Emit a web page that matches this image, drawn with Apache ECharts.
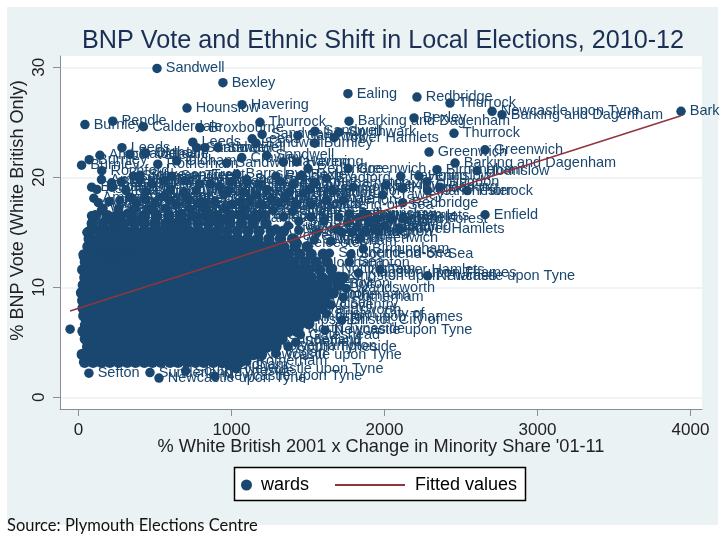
<!DOCTYPE html>
<html><head><meta charset="utf-8">
<style>html,body{margin:0;padding:0;background:#fff}#c{width:720px;height:540px}</style>
<script src="https://cdn.jsdelivr.net/npm/echarts@6/dist/echarts.min.js"></script>
</head><body><div id="c"></div>
<script>
const titleText = "BNP Vote and Ethnic Shift in Local Elections, 2010-12";
const xTitle = "% White British 2001 x Change in Minority Share '01-11";
const yTitle = "% BNP Vote (White British Only)";
const sourceText = "Source: Plymouth Elections Centre";
const xTicks = [0, 1000, 2000, 3000, 4000];
const yTicks = [0, 10, 20, 30];
const fittedLine = [[-55, 7.85], [3938, 25.6]];

// Named wards that stand out from the mass: [x, y, label]
const namedTop = [
 [513,29.9,"Sandwell"],[944,28.6,"Bexley"],[709,26.3,"Hounslow"],[1069,26.6,"Havering"],[1761,27.6,"Ealing"],
 [2212,27.3,"Redbridge"],[2428,26.75,"Thurrock"],[2703,26.0,"Newcastle upon Tyne"],[2768,25.7,"Barking and Dagenham"],
 [3938,26.0,"Barking and Dagenham"],[2193,25.4,"Bexley"],[1768,25.1,"Barking and Dagenham"],[2454,24.0,"Thurrock"],
 [2291,22.3,"Greenwich"],[2657,22.5,"Greenwich"],[2461,21.3,"Barking and Dagenham"],[2343,20.7,"Birmingham"],[2605,20.6,"Hounslow"],
 [42,24.8,"Burnley"],[224,25.1,"Pendle"],[424,24.6,"Calderdale"],[794,24.5,"Broxbourne"],[1186,25.0,"Thurrock"],
 [1200,23.9,"Sandwell"],[1135,23.5,"Leeds"],[1160,23.1,"Sandwell"],[1434,23.8,"Sandwell"],[1545,24.2,"Sandwell"],
 [1545,23.1,"Burnley"],[1703,24.1,"Southwark"],[1670,23.6,"Tower Hamlets"],[747,23.2,"Leeds"],[772,22.7,"Sandwell"],[826,22.7,"Sandwell"],
 [912,22.7,"Sandwell"],[284,22.7,"Leeds"],[140,22.0,"Amber Valley"],[70,21.6,"Burnley"],[20,21.1,"Burnley"],
 [336,22.1,"Calderdale"],[439,22.2,"Oldham"],[518,21.2,"Rotherham"],[642,21.5,"Oldham"],[969,21.3,"Sandwell"],
 [1067,21.8,"Crawley"],[1230,22.0,"Sandwell"],[1339,21.4,"Havering"],[1426,21.4,"Havering"],[1500,20.8,"Redbridge"],
 [1763,20.8,"Greenwich"],[152,20.6,"Rochford"],[358,20.1,"Stoke-on-Trent"],[402,20.2,"Stoke-on-Trent"],[609,20.1,"Sandwell"],
 [1034,20.3,"Barnsley"],[1459,20.2,"Bexley"],[1290,20.1,"Redditch"],[86,19.1,"Bolton"],[217,19.5,"Bradford"],[217,19.1,"Barnsley"],
 [864,19.4,"Dudley"],[920,19.2,"Tameside"],[1545,19.5,"Southampton"],[1796,19.1,"Southall"],[2106,20.1,"Havering"],[2225,20.1,"Hounslow"],
 [2277,19.6,"Hillingdon"],[2282,18.8,"Manchester"],[2540,18.8,"Thurrock"],[2362,19.1,"Barking"],[2119,19.0,"Hillingdon"],
 [2010,19.3,"Bexley"],[1988,18.4,"Crawley"],[2119,17.7,"Redbridge"],[2657,16.6,"Enfield"],[2122,16.3,"Enfield"],[2101,15.3,"Tower Hamlets"],
 [1862,16.7,"Hounslow"],[1861,13.5,"Birmingham"],[1840,14.5,"Greenwich"],[1970,11.6,"Tower Hamlets"],[2282,11.05,"Newcastle upon Tyne"]
];
// Upper part of the mass, still readable as separate wards
const namedUpper = [
 [150,19.8,"Amber Valley"],[280,19.6,"Ashfield"],[400,19.8,"Walsall"],[480,19.4,"Kirklees"],[560,19.7,"Wakefield"],[700,19.7,"Thurrock"],[790,19.4,"Sandwell"],
 [1000,19.6,"Rotherham"],[1100,19.8,"Doncaster"],[1180,19.4,"Swale"],[1320,19.6,"Basildon"],[1400,19.3,"Medway"],[1620,19.9,"Bradford"],
 [120,18.9,"Ashfield"],[310,18.8,"Blackburn with Darwen"],[440,18.7,"Bolton"],[600,18.9,"Barnsley"],[690,18.6,"Sunderland"],[770,18.8,"Walsall"],
 [980,18.8,"Kirklees"],[1080,18.6,"Stoke-on-Trent"],[1230,18.9,"Harlow"],[1380,18.7,"Sheffield"],[1510,18.9,"Havering"],[1660,18.8,"Hillingdon"],
 [200,17.8,"Dudley"],[380,17.7,"Oldham"],[500,17.6,"Wigan"],[600,17.9,"Leeds"],[780,17.6,"Bradford"],[890,17.8,"Rochdale"],[1000,17.5,"Tameside"],
 [1120,17.9,"Wakefield"],[1200,17.5,"Doncaster"],[1310,17.7,"Sandwell"],[1420,17.6,"Redditch"],[1520,17.5,"Southend-on-Sea"],
 [160,17.2,"Wirral"],[260,17.1,"Barnsley"],[370,17.2,"Bury"],[470,17.1,"Hartlepool"],[570,17.2,"Rotherham"],[730,17.1,"Calderdale"],[830,17.2,"Medway"],
 [960,17.1,"Kirklees"],[1090,17.2,"Stockton-on-Tees"],[1270,17.0,"Sheffield"],[1400,16.9,"Swale"]
];
const namedMiddle = [
 [100,18.1,"Amber Valley"],[130,17.7,"Ashfield"],[150,17.0,"Walsall"],[270,17.9,"Wakefield"],[340,18.2,"Rotherham"],[440,18.0,"Barnsley"],
 [560,18.3,"Wigan"],[640,17.5,"Doncaster"],[720,18.0,"Sheffield"],[830,17.7,"Bradford"],[950,18.4,"Kirklees"],[1060,17.8,"Medway"],
 [1160,18.4,"Harlow"],[1260,18.0,"Dudley"],[1350,18.2,"Basildon"],[1470,18.6,"Hillingdon"],[1620,18.0,"Swale"],[1730,17.9,"Merton"],
 [230,16.4,"Leeds"],[320,16.7,"Calderdale"],[410,16.3,"Bolton"],[500,16.8,"Tameside"],[590,16.2,"Oldham"],[680,16.6,"Stockport"],
 [770,16.3,"Rochdale"],[860,16.7,"Sefton"],[950,16.2,"Bury"],[1040,16.6,"Wirral"],[1130,16.3,"Hartlepool"],[1220,16.6,"Sandwell"],
 [1340,16.4,"Castle Point"],[1605,16.05,"Sandwell"],[1700,16.4,"Enfield"],[1760,15.9,"Hackney"],[1820,15.5,"Lewisham"],[1900,15.9,"Croydon"],[1950,16.2,"Waltham Forest"],
 [2000,15.6,"Havering"],[1690,15.3,"Reading"],[1870,16.5,"Tower Hamlets"],[2040,16.2,"Enfield"],
 [85,16.5,"Barnsley"],[95,15.9,"Ashfield"],[55,15.0,"Bolsover"],[30,13.0,"Boston"],[32,12.8,"Blackpool"],[-55,6.2,"Redcar"],
 [1720,15.0,"Havering"],[1560,15.0,"Slough"],[1440,15.2,"Woking"],[1780,13.0,"Southend-on-Sea"],[1650,14.2,"Newham"],[1770,12.3,"Sea"],
 [1830,11.3,"Kingston upon Thames"],[1700,11.0,"Kingston upon Thames"],[1710,10.3,"Bolton"],[1750,9.9,"Wandsworth"],[1640,9.3,"Rotherham"],[1730,9.1,"Rotherham"],
 [1650,8.4,"Coventry"],[1720,7.0,"Bristol, City of"],[1480,7.3,"Kingston upon Thames"],[1611,6.1,"Newcastle upon Tyne"],[1440,6.2,"North Tyneside"],
 [1310,5.2,"Sunderland"],[1420,5.0,"Sheffield"],[1230,4.7,"Wolverhampton"],[1150,3.85,"Newcastle upon Tyne"],[1100,3.3,"Rotherham"],
 [980,2.9,"Oldham"],[1030,2.6,"Newcastle upon Tyne"],[68,2.2,"Sefton"],[467,2.25,"Sunderland"],[526,1.75,"Newcastle upon Tyne"],[892,1.9,"Newcastle upon Tyne"],[700,2.4,"South Tyneside"]
];
// The right-hand edge of the mass, where the wards thin out
const namedFringe = [
 [1770,16.7,"Ealing"],[1830,16.3,"Hackney"],[1890,16.6,"Lewisham"],[1940,15.4,"Croydon"],[1790,15.0,"Brent"],[1870,15.1,"Slough"],[1960,15.0,"Merton"],
 [1520,16.4,"Hillingdon"],[1440,16.0,"Sandwell"],[1370,15.6,"Luton"],[1290,15.3,"Peterborough"],[1540,14.3,"Swindon"],[1430,14.0,"Leicester"],[1320,14.7,"Wolverhampton"],
 [1640,13.1,"Southend-on-Sea"],[1560,12.2,"Northampton"],[1660,11.7,"Nottingham"],[1600,10.4,"Derby"],[1580,9.4,"Bolton"],[1560,8.6,"Walsall"],
 [1530,7.9,"Wandsworth"],[1500,7.0,"Ipswich"],[1450,5.7,"Gateshead"],[1370,4.6,"South Tyneside"],[1290,4.0,"Wigan"],[1620,7.6,"Bristol, City of"]
];
// The solid mass: one y value and the x values read along that level
const massY = [3.2,3.9,4.6,5.3,6.0,6.7,7.4,8.1,8.8,9.5,10.2,10.9,11.6,12.3,13.0,13.7,14.4,15.1,15.8,16.5];
const massX = [
 [40,95,150,205,262,318,372,430,483,540,598,650,708,765,820,880,935,990,1050],
 [25,80,130,190,245,300,355,410,470,525,580,635,690,745,805,860,915,970,1030,1085,1140,1195],
 [60,115,170,228,282,340,395,450,505,562,618,672,730,785,840,898,952,1010,1065,1120,1178,1235,1290],
 [45,100,155,212,268,322,380,435,490,548,602,660,715,770,828,882,940,995,1050,1108,1165,1220,1275,1330],
 [30,85,140,198,252,308,365,420,478,532,590,645,700,758,812,870,925,982,1038,1095,1150,1205,1262,1318,1372,1430],
 [50,108,162,218,275,330,385,442,498,555,610,668,722,778,835,892,948,1002,1060,1115,1172,1228,1282,1340,1395,1450,1505],
 [35,90,145,200,258,312,370,425,482,538,595,650,705,762,818,875,930,988,1042,1100,1155,1210,1268,1322,1380,1435,1490,1548],
 [30,78,132,188,245,300,355,412,468,522,580,635,690,748,802,860,915,972,1028,1085,1140,1195,1252,1308,1362,1420,1475,1530,1590],
 [28,85,142,198,255,310,365,422,478,535,590,648,702,760,815,872,928,985,1040,1098,1152,1210,1265,1322,1378,1435,1490,1548,1610],
 [20,72,128,185,240,298,352,410,465,522,578,635,690,748,802,860,915,972,1028,1085,1140,1198,1252,1310,1365,1422,1480,1540,1600,1665],
 [32,88,145,200,258,312,370,425,482,538,595,650,708,762,820,875,932,988,1045,1100,1158,1212,1270,1325,1382,1440,1495,1560,1625,1695],
 [42,98,155,210,268,322,380,436,492,548,605,660,718,772,830,885,942,998,1055,1110,1168,1222,1280,1338,1395,1455,1520,1590,1660,1730],
 [28,82,138,195,250,308,362,420,475,532,588,645,700,758,812,870,925,982,1038,1095,1150,1208,1262,1320,1378,1440,1505,1575,1650],
 [45,100,158,212,270,325,382,438,495,550,608,662,720,775,832,888,945,1000,1058,1112,1170,1225,1285,1345,1410,1480,1550,1625],
 [55,112,168,225,280,338,392,450,505,562,618,675,730,788,842,900,955,1012,1068,1125,1182,1242,1305,1372,1445,1520,1600],
 [62,120,175,232,288,345,400,458,512,570,625,682,738,795,850,908,965,1022,1080,1140,1205,1270,1340,1415,1495],
 [70,128,185,240,298,352,410,465,522,578,635,692,748,805,862,920,980,1040,1105,1172,1245,1320,1400],
 [75,135,195,252,310,368,428,485,545,605,665,725,785,845,905,970,1038,1108,1180,1260,1340],
 [90,160,230,295,365,430,500,570,640,705,780,850,920,990,1065,1140,1225],
 [110,190,270,345,430,510,590,665,745,830,905,990,1075,1170]
];
const named = namedTop.concat(namedUpper, namedMiddle, namedFringe);
const massData = [];
massY.forEach((y, i) => massX[i].forEach(x => massData.push([x, y])));
const namedData = named.map(d => ({value: [d[0], d[1]], name: d[2]}));

const navy = '#1a476f', panel = '#eaf2f3', maroon = '#90353b';
const chart = echarts.init(document.getElementById('c'), null, {renderer: 'canvas', width: 720, height: 540});
chart.setOption({
 animation: false,
 backgroundColor: '#fff',
 textStyle: {fontFamily: 'Liberation Sans'},
 title: {text: titleText, left: 82, top: 29, padding: 0,
   textStyle: {fontFamily: 'Liberation Sans', fontSize: 25.2, fontWeight: 'normal', color: '#1b2f55'}},
 graphic: [
  {type: 'rect', z: -1, shape: {x: 7, y: 7, width: 711, height: 518}, style: {fill: panel}},
  {type: 'rect', z: 1, shape: {x: 234.5, y: 467.5, width: 291, height: 33}, style: {fill: '#fff', stroke: '#000', lineWidth: 1.5}},
  {type: 'text', z: 5, left: 7, top: 517, style: {text: sourceText, fill: '#111', font: '16.5px Lato', letterSpacing: 0.5}}
 ],
 legend: [
  {data: ['wards'], left: 241, top: 476, padding: 0, itemWidth: 11, itemHeight: 11, itemGap: 0, selectedMode: false,
   textStyle: {fontSize: 18, color: '#000', padding: [0, 0, 0, 4]}},
  {data: [{name: 'Fitted values', icon: 'rect'}], left: 335, top: 476, padding: 0, itemWidth: 70, itemHeight: 2, itemGap: 0, selectedMode: false,
   textStyle: {fontSize: 18, color: '#000', padding: [0, 0, 0, 5]}}
 ],
 grid: {left: 60, right: 18, top: 56, bottom: 131, show: true, backgroundColor: '#fff', borderWidth: 0, outerBoundsMode: 'none'},
 xAxis: {type: 'value', min: -121, max: 4075, name: xTitle, nameLocation: 'middle', nameGap: 29, nameMoveOverlap: false,
   nameTextStyle: {fontSize: 18.2, color: '#222'},
   axisLine: {onZero: false, lineStyle: {color: '#8a8f94', width: 1}},
   axisTick: {length: 7, lineStyle: {color: '#8a8f94'}, customValues: xTicks},
   axisLabel: {fontSize: 17, color: '#222', margin: 13, customValues: xTicks, formatter: v => String(v)},
   splitLine: {show: false}},
 yAxis: {type: 'value', min: -1.06, max: 31.03, name: yTitle, nameLocation: 'middle', nameGap: 33, nameMoveOverlap: false,
   nameTextStyle: {fontSize: 18.1, color: '#222', padding: [0, 0, 0, 44]},
   axisLine: {show: true, onZero: false, lineStyle: {color: '#8a8f94', width: 1}},
   axisTick: {show: true, length: 7, lineStyle: {color: '#8a8f94'}, customValues: yTicks},
   axisLabel: {fontSize: 17, color: '#222', rotate: 90, margin: 12, customValues: yTicks, formatter: v => String(v)},
   splitLine: {show: true, lineStyle: {color: panel, width: 1.5}}},
 series: [
  {name: 'wards', type: 'scatter', symbol: 'circle', symbolSize: 11.5, clip: false, z: 2,
   itemStyle: {color: navy, opacity: 1}, data: massData, silent: true},
  {name: 'wards', type: 'scatter', symbol: 'circle', symbolSize: 9.5, clip: false, z: 2,
   itemStyle: {color: navy, opacity: 1}, data: namedData,
   label: {show: true, position: 'right', distance: 4, color: navy, fontSize: 14.5,
     formatter: p => p.name || ''}},
  {name: 'Fitted values', type: 'line', symbol: 'none', z: 6, data: fittedLine,
   lineStyle: {color: maroon, width: 1.5}, itemStyle: {color: maroon}}
 ]
});
</script></body></html>
